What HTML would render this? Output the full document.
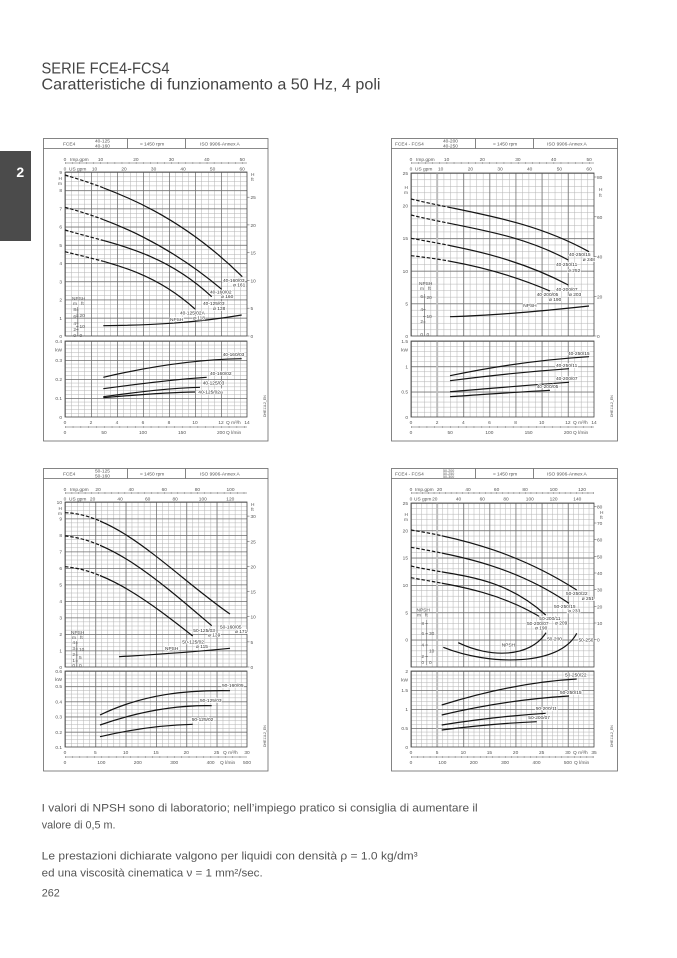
<!DOCTYPE html>
<html><head><meta charset="utf-8">
<style>
html,body{margin:0;padding:0;background:#fff;}
svg{display:block;}
.t{font-family:"Liberation Sans",sans-serif;font-size:4.8px;fill:#555;}
.m{text-anchor:middle;}
.e{text-anchor:end;}
.lb{font-family:"Liberation Sans",sans-serif;font-size:4.8px;fill:#333;stroke:#fff;stroke-width:1.5;paint-order:stroke;}
.mi{fill:#b3b3b3;}
.ma{fill:#6e6e6e;}
.c{fill:none;stroke:#141414;stroke-width:1.2;}
.d{stroke-dasharray:3.5 1.8;}
.fr{fill:none;stroke:#666;stroke-width:0.8;}
.bd{fill:none;stroke:#444;stroke-width:0.8;}
.tk{fill:none;stroke:#555;stroke-width:0.5;}
.body{font-family:"Liberation Sans",sans-serif;font-size:10.8px;fill:#555;}
</style></head><body>
<svg width="677" height="958" viewBox="0 0 677 958" xmlns="http://www.w3.org/2000/svg">
<defs>
<pattern id="tlum" patternUnits="userSpaceOnUse" x="65" y="172" width="6.5" height="4.5556"><rect class="mi" width="0.5" height="4.5556"/><rect class="mi" width="6.5" height="0.5"/></pattern>
<pattern id="tluM" patternUnits="userSpaceOnUse" x="65" y="172" width="26" height="18.2222"><rect class="ma" width="0.75" height="18.2222"/><rect class="ma" width="26" height="0.75"/></pattern>
<pattern id="tllm" patternUnits="userSpaceOnUse" x="65" y="341" width="6.5" height="3.8"><rect class="mi" width="0.5" height="3.8"/><rect class="mi" width="6.5" height="0.5"/></pattern>
<pattern id="tllM" patternUnits="userSpaceOnUse" x="65" y="341" width="26" height="19"><rect class="ma" width="0.75" height="19"/><rect class="ma" width="26" height="0.75"/></pattern>

<pattern id="trum" patternUnits="userSpaceOnUse" x="411" y="173" width="6.5357" height="6.52"><rect class="mi" width="0.5" height="6.52"/><rect class="mi" width="6.5357" height="0.5"/></pattern>
<pattern id="truM" patternUnits="userSpaceOnUse" x="411" y="173" width="26.1429" height="32.6"><rect class="ma" width="0.75" height="32.6"/><rect class="ma" width="26.1429" height="0.75"/></pattern>
<pattern id="trlm" patternUnits="userSpaceOnUse" x="411" y="341" width="6.5357" height="5.0667"><rect class="mi" width="0.5" height="5.0667"/><rect class="mi" width="6.5357" height="0.5"/></pattern>
<pattern id="trlM" patternUnits="userSpaceOnUse" x="411" y="341" width="26.1429" height="25.3333"><rect class="ma" width="0.75" height="25.3333"/><rect class="ma" width="26.1429" height="0.75"/></pattern>

<pattern id="blum" patternUnits="userSpaceOnUse" x="65" y="502" width="6.0667" height="4.125"><rect class="mi" width="0.5" height="4.125"/><rect class="mi" width="6.0667" height="0.5"/></pattern>
<pattern id="bluM" patternUnits="userSpaceOnUse" x="65" y="502" width="30.3333" height="16.5"><rect class="ma" width="0.75" height="16.5"/><rect class="ma" width="30.3333" height="0.75"/></pattern>
<pattern id="bllm" patternUnits="userSpaceOnUse" x="65" y="671" width="6.0667" height="3.8"><rect class="mi" width="0.5" height="3.8"/><rect class="mi" width="6.0667" height="0.5"/></pattern>
<pattern id="bllM" patternUnits="userSpaceOnUse" x="65" y="671" width="30.3333" height="15.2"><rect class="ma" width="0.75" height="15.2"/><rect class="ma" width="30.3333" height="0.75"/></pattern>

<pattern id="brum" patternUnits="userSpaceOnUse" x="411" y="503" width="5.2286" height="5.4667"><rect class="mi" width="0.5" height="5.4667"/><rect class="mi" width="5.2286" height="0.5"/></pattern>
<pattern id="bruM" patternUnits="userSpaceOnUse" x="411" y="503" width="26.1429" height="27.3333"><rect class="ma" width="0.75" height="27.3333"/><rect class="ma" width="26.1429" height="0.75"/></pattern>
<pattern id="brlm" patternUnits="userSpaceOnUse" x="411" y="671" width="5.2286" height="3.8"><rect class="mi" width="0.5" height="3.8"/><rect class="mi" width="5.2286" height="0.5"/></pattern>
<pattern id="brlM" patternUnits="userSpaceOnUse" x="411" y="671" width="26.1429" height="19"><rect class="ma" width="0.75" height="19"/><rect class="ma" width="26.1429" height="0.75"/></pattern>

<clipPath id="tlL"><rect x="60" y="165" width="43.3" height="180"/></clipPath>
<clipPath id="tlR"><rect x="103.3" y="165" width="160" height="180"/></clipPath>
<clipPath id="trL"><rect x="405" y="165" width="45" height="180"/></clipPath>
<clipPath id="trR"><rect x="450" y="165" width="160" height="180"/></clipPath>
<clipPath id="blL"><rect x="60" y="495" width="40" height="180"/></clipPath>
<clipPath id="blR"><rect x="100" y="495" width="160" height="180"/></clipPath>
<clipPath id="brL"><rect x="405" y="495" width="36.7" height="180"/></clipPath>
<clipPath id="brR"><rect x="441.7" y="495" width="160" height="180"/></clipPath>

<g id="tlc">
<path d="M65 175C124.1 192.55 183.2 218.35 242.3 276.7"/>
<path d="M65 207.3C117.2 221.4 169.5 245.5 221.7 289.3"/>
<path d="M65 230C113.9 244.3 162.8 251.1 211.7 296.7"/>
<path d="M65 251.7C108.3 262.7 151.7 269.9 195 309"/>
</g>
<g id="trc">
<path d="M411 199C470.3 213.3 529.7 218.8 589 251.7"/>
<path d="M411 215C463.4 227.9 515.9 231.7 568.3 260"/>
<path d="M411 238.3C463.4 247.6 515.9 257.2 568.3 285"/>
<path d="M411 255.7C457.3 260.6 503.7 271.1 550 291"/>
</g>
<g id="blc">
<path d="M65 512.7C120 514.1 175 576.3 230 614"/>
<path d="M65 536C113.9 540.3 162.8 584.1 211.7 625.7"/>
<path d="M65 566.7C107.6 570.3 150.1 602.4 192.7 636"/>
</g>
<g id="brc">
<path d="M411 530C466.2 538.9 521.5 554.6 576.7 590"/>
<path d="M411 547.3C463.7 556.5 516.3 567.4 569 603.3"/>
<path d="M411 566C455.9 576.5 500.8 574.2 545.7 615"/>
<path d="M411 577.7C455.3 585.6 499.7 591.5 544 619.3"/>
</g>
</defs>

<!-- Title -->
<text x="41.5" y="73.5" font-family="Liberation Sans, sans-serif" font-size="16" fill="#444" textLength="128" lengthAdjust="spacingAndGlyphs">SERIE FCE4-FCS4</text>
<text x="41.5" y="89.5" font-family="Liberation Sans, sans-serif" font-size="16" fill="#444" textLength="339" lengthAdjust="spacingAndGlyphs">Caratteristiche di funzionamento a 50 Hz, 4 poli</text>

<!-- Side tab -->
<rect x="0" y="151" width="31" height="90" fill="#4b4b4b"/>
<text x="20.3" y="177" font-family="Liberation Sans, sans-serif" font-size="14" font-weight="bold" fill="#fff" text-anchor="middle">2</text>

<!-- ================= TOP LEFT ================= -->
<rect class="fr" x="43.5" y="138.5" width="224.5" height="302.5"/>
<path class="fr" d="M43.5 148.5H268M127.5 138.5V148.5M185.5 138.5V148.5"/>
<g class="t">
<text x="63" y="145.5">FCE4</text>
<text x="95" y="142.6">40-125</text>
<text x="95" y="147.3">40-160</text>
<text x="140" y="145.5">≈ 1450 rpm</text>
<text x="200" y="145.5">ISO 9906-Annex A</text>
</g>
<rect x="65" y="172" width="182" height="164" fill="url(#tlum)"/>
<rect x="65" y="172" width="182" height="164" fill="url(#tluM)"/>
<rect class="bd" x="65" y="172" width="182" height="164"/>
<rect x="65" y="341" width="182" height="76" fill="url(#tllm)"/>
<rect x="65" y="341" width="182" height="76" fill="url(#tllM)"/>
<rect class="bd" x="65" y="341" width="182" height="76"/>
<path class="tk" d="M65 163H247M65 427H247"/>
<path d="M65 163H247" stroke="#555" stroke-width="1.6" stroke-dasharray="0.5 6.59"/>
<path d="M65 427H247" stroke="#555" stroke-width="1.6" stroke-dasharray="0.5 7.3"/>
<path class="tk" d="M247 308.2h2.5M247 280.5h2.5M247 252.7h2.5M247 224.9h2.5M247 197.2h2.5M247 336h2.5"/>
<g class="t">
<text class="m" x="65" y="161">0</text><text x="70" y="161">Imp.gpm</text>
<text class="m" x="100.5" y="161">10</text><text class="m" x="135.9" y="161">20</text><text class="m" x="171.4" y="161">30</text><text class="m" x="206.8" y="161">40</text><text class="m" x="242.3" y="161">50</text>
<text class="m" x="65" y="170.5">0</text><text x="69" y="170.5">US gpm</text>
<text class="m" x="94.5" y="170.5">10</text><text class="m" x="124" y="170.5">20</text><text class="m" x="153.6" y="170.5">30</text><text class="m" x="183.1" y="170.5">40</text><text class="m" x="212.6" y="170.5">50</text><text class="m" x="242.2" y="170.5">60</text>
<text class="e" x="62" y="174">9</text><text class="e" x="62" y="192.2">8</text><text class="e" x="62" y="210.4">7</text><text class="e" x="62" y="228.7">6</text><text class="e" x="62" y="246.9">5</text><text class="e" x="62" y="265.1">4</text><text class="e" x="62" y="283.3">3</text><text class="e" x="62" y="301.6">2</text><text class="e" x="62" y="319.8">1</text><text class="e" x="62" y="338">0</text>
<text class="e" x="62" y="180">H</text><text class="e" x="62" y="185">m</text>
<text x="250.5" y="338">0</text><text x="250.5" y="310.2">5</text><text x="250.5" y="282.5">10</text><text x="250.5" y="254.7">15</text><text x="250.5" y="226.9">20</text><text x="250.5" y="199.2">25</text>
<text x="251" y="176">H</text><text x="251" y="181">ft</text>
<text class="e" x="62" y="343">0.4</text><text class="e" x="62" y="351.5">kW</text><text class="e" x="62" y="362">0.3</text><text class="e" x="62" y="381">0.2</text><text class="e" x="62" y="400">0.1</text><text class="e" x="62" y="419">0</text>
<text class="m" x="65" y="424">0</text><text class="m" x="91" y="424">2</text><text class="m" x="117" y="424">4</text><text class="m" x="143" y="424">6</text><text class="m" x="169" y="424">8</text><text class="m" x="195" y="424">10</text><text class="m" x="221" y="424">12</text><text x="226" y="424">Q m³/h</text><text class="m" x="247" y="424">14</text>
<text class="m" x="65" y="434">0</text><text class="m" x="104" y="434">50</text><text class="m" x="143" y="434">100</text><text class="m" x="182" y="434">150</text><text class="m" x="221" y="434">200</text><text x="226" y="434">Q l/min</text>
<text x="72" y="300">NPSH</text><text x="73" y="305">m</text><text x="81" y="305">ft</text>
<text class="e" x="76" y="311">8</text><text class="e" x="76" y="318">6</text><text class="e" x="76" y="325">4</text><text class="e" x="76" y="331">2</text><text class="e" x="76" y="337">0</text>
<text x="79.5" y="317">20</text><text x="79.5" y="328">10</text><text x="79.5" y="337">0</text>
<text transform="translate(266,417) rotate(-90)" font-size="3.5">DHE11L2_EN</text>
</g>
<path class="tk" d="M77.3 307V336M76 310h2.6M76 316.5h2.6M76 323h2.6M76 329.5h2.6M76 315h2.6M76 326.5h2.6"/>
<use href="#tlc" class="c d" clip-path="url(#tlL)"/>
<use href="#tlc" class="c" clip-path="url(#tlR)"/>
<path class="c" d="M103.3 325.7C149.4 325.2 195.5 323 241.7 315"/>
<path class="c" d="M103.3 377.3C149.4 366.5 195.5 359.5 241.7 358.7"/>
<path class="c" d="M103.3 388.7C137.8 384 172.2 379.5 206.7 377.3"/>
<path class="c" d="M103.3 396.7C135.5 392.5 167.8 388 200 387.3"/>
<path class="c" d="M103.3 397.7C133.9 395 164.4 392.5 195 392"/>
<g class="lb">
<text x="223" y="282">40-160/03</text><text x="233" y="286.5">ø 161</text>
<text x="210" y="293.5">40-160/02</text><text x="221" y="298">ø 160</text>
<text x="203" y="305">40-125/03</text><text x="213" y="310">ø 138</text>
<text x="180" y="314.5">40-125/02A</text><text x="193" y="319.5">ø 118</text>
<text x="170" y="321">NPSH</text>
<text x="222.7" y="356">40-160/03</text>
<text x="210" y="375">40-160/02</text>
<text x="202.7" y="384.5">40-125/03</text>
<text x="198.3" y="393.5">40-125/02A</text>
</g>

<!-- ================= TOP RIGHT ================= -->
<rect class="fr" x="391.5" y="138.5" width="226" height="302.5"/>
<path class="fr" d="M391.5 148.5H617.5M475.5 138.5V148.5M533.5 138.5V148.5"/>
<g class="t">
<text x="395" y="145.5">FCE4 - FCS4</text>
<text x="443" y="142.6">40-200</text>
<text x="443" y="147.3">40-250</text>
<text x="493" y="145.5">≈ 1450 rpm</text>
<text x="547" y="145.5">ISO 9906-Annex A</text>
</g>
<rect x="411" y="173" width="183" height="163" fill="url(#trum)"/>
<rect x="411" y="173" width="183" height="163" fill="url(#truM)"/>
<rect x="411" y="341" width="183" height="76" fill="url(#trlm)"/>
<rect x="411" y="341" width="183" height="76" fill="url(#trlM)"/>
<path d="M437.1 173V336M437.1 341V417" stroke="#bdbdbd" stroke-width="1.8"/>
<rect class="bd" x="411" y="173" width="183" height="163"/>
<rect class="bd" x="411" y="341" width="183" height="76"/>
<path class="tk" d="M411 163H594M411 427H594"/>
<path d="M411 163H594" stroke="#555" stroke-width="1.6" stroke-dasharray="0.5 6.63"/>
<path d="M411 427H594" stroke="#555" stroke-width="1.6" stroke-dasharray="0.5 7.34"/>
<path class="tk" d="M594 296.3h2.5M594 256.5h2.5M594 216.8h2.5M594 177h2.5M594 336h2.5"/>
<g class="t">
<text class="m" x="411" y="161">0</text><text x="416" y="161">Imp.gpm</text>
<text class="m" x="446.6" y="161">10</text><text class="m" x="482.3" y="161">20</text><text class="m" x="517.9" y="161">30</text><text class="m" x="553.6" y="161">40</text><text class="m" x="589.2" y="161">50</text>
<text class="m" x="411" y="170.5">0</text><text x="415" y="170.5">US gpm</text>
<text class="m" x="440.7" y="170.5">10</text><text class="m" x="470.4" y="170.5">20</text><text class="m" x="500.1" y="170.5">30</text><text class="m" x="529.7" y="170.5">40</text><text class="m" x="559.4" y="170.5">50</text><text class="m" x="589.1" y="170.5">60</text>
<text class="e" x="408" y="175">25</text><text class="e" x="408" y="207.6">20</text><text class="e" x="408" y="240.2">15</text><text class="e" x="408" y="272.8">10</text><text class="e" x="408" y="305.4">5</text><text class="e" x="408" y="338">0</text>
<text class="e" x="408" y="189">H</text><text class="e" x="408" y="194">m</text>
<text x="597" y="338">0</text><text x="597" y="298.3">20</text><text x="597" y="258.5">40</text><text x="597" y="218.8">60</text><text x="597" y="179">80</text>
<text x="599" y="191">H</text><text x="599" y="197">ft</text>
<text class="e" x="408" y="343">1.5</text><text class="e" x="408" y="351.5">kW</text><text class="e" x="408" y="368.3">1</text><text class="e" x="408" y="393.7">0.5</text><text class="e" x="408" y="419">0</text>
<text class="m" x="411" y="424">0</text><text class="m" x="437.1" y="424">2</text><text class="m" x="463.3" y="424">4</text><text class="m" x="489.4" y="424">6</text><text class="m" x="515.6" y="424">8</text><text class="m" x="541.7" y="424">10</text><text class="m" x="567.9" y="424">12</text><text x="573" y="424">Q m³/h</text><text class="m" x="594" y="424">14</text>
<text class="m" x="411" y="434">0</text><text class="m" x="450.2" y="434">50</text><text class="m" x="489.4" y="434">100</text><text class="m" x="528.6" y="434">150</text><text class="m" x="567.9" y="434">200</text><text x="573" y="434">Q l/min</text>
<text x="419" y="285">NPSH</text><text x="420" y="290">m</text><text x="428" y="290">ft</text>
<text class="e" x="423" y="298">6</text><text class="e" x="423" y="311">4</text><text class="e" x="423" y="323">2</text><text class="e" x="423" y="336">0</text>
<text x="426.5" y="299">20</text><text x="426.5" y="318">10</text><text x="426.5" y="336">0</text>
<text transform="translate(613,417) rotate(-90)" font-size="3.5">DHE11L2_EN</text>
</g>
<path class="tk" d="M424.5 294V336M423 297h2.6M423 309.5h2.6M423 322h2.6M423 316.5h2.6"/>
<use href="#trc" class="c d" clip-path="url(#trL)"/>
<use href="#trc" class="c" clip-path="url(#trR)"/>
<path class="c" d="M450 316.7C496 315.5 543 311 589 306"/>
<path class="c" d="M450 375.7C496.3 366 542.7 359.5 589 356.7"/>
<path class="c" d="M450 380.7C489.7 375.5 529.3 371.5 569 368.7"/>
<path class="c" d="M450 391.7C489.7 388.5 529.3 385 569 382.3"/>
<path class="c" d="M450 396.7C483.3 394.5 516.7 392 550 390.3"/>
<g class="lb">
<text x="569" y="256">40-250/15</text><text x="582.7" y="261">ø 248</text>
<text x="556" y="266">40-250/11</text><text x="568" y="272">ø 252</text>
<text x="556" y="291">40-200/07</text><text x="569" y="296">ø 203</text>
<text x="536.7" y="296">40-200/05</text><text x="549" y="301">ø 190</text>
<text x="523.3" y="307">NPSH</text>
<text x="568" y="355">40-250/15</text>
<text x="556" y="367">40-250/11</text>
<text x="556" y="380">40-200/07</text>
<text x="536.7" y="388">40-200/05</text>
</g>

<!-- ================= BOTTOM LEFT ================= -->
<rect class="fr" x="43.5" y="468.5" width="224.5" height="302.5"/>
<path class="fr" d="M43.5 478.5H268M127.5 468.5V478.5M185.5 468.5V478.5"/>
<g class="t">
<text x="63" y="475.5">FCE4</text>
<text x="95" y="472.6">50-125</text>
<text x="95" y="477.3">50-160</text>
<text x="140" y="475.5">≈ 1450 rpm</text>
<text x="200" y="475.5">ISO 9906-Annex A</text>
</g>
<rect x="65" y="502" width="182" height="165" fill="url(#blum)"/>
<rect x="65" y="502" width="182" height="165" fill="url(#bluM)"/>
<rect class="bd" x="65" y="502" width="182" height="165"/>
<rect x="65" y="671" width="182" height="76" fill="url(#bllm)"/>
<rect x="65" y="671" width="182" height="76" fill="url(#bllM)"/>
<rect class="bd" x="65" y="671" width="182" height="76"/>
<path class="tk" d="M65 493H247M65 757H247"/>
<path d="M65 493H247" stroke="#555" stroke-width="1.6" stroke-dasharray="0.5 6.12"/>
<path d="M65 757H247" stroke="#555" stroke-width="1.6" stroke-dasharray="0.5 6.78"/>
<path class="tk" d="M247 641.9h2.5M247 616.7h2.5M247 591.6h2.5M247 566.4h2.5M247 541.3h2.5M247 516.1h2.5M247 667h2.5"/>
<g class="t">
<text class="m" x="65" y="491">0</text><text x="70" y="491">Imp.gpm</text>
<text class="m" x="98.1" y="491">20</text><text class="m" x="131.2" y="491">40</text><text class="m" x="164.3" y="491">60</text><text class="m" x="197.4" y="491">80</text><text class="m" x="230.5" y="491">100</text>
<text class="m" x="65" y="500.5">0</text><text x="69" y="500.5">US gpm</text>
<text class="m" x="92.6" y="500.5">20</text><text class="m" x="120.1" y="500.5">40</text><text class="m" x="147.7" y="500.5">60</text><text class="m" x="175.2" y="500.5">80</text><text class="m" x="202.8" y="500.5">100</text><text class="m" x="230.3" y="500.5">120</text>
<text class="e" x="62" y="504">10</text><text class="e" x="62" y="520.5">9</text><text class="e" x="62" y="537">8</text><text class="e" x="62" y="553.5">7</text><text class="e" x="62" y="570">6</text><text class="e" x="62" y="586.5">5</text><text class="e" x="62" y="603">4</text><text class="e" x="62" y="619.5">3</text><text class="e" x="62" y="636">2</text><text class="e" x="62" y="652.5">1</text><text class="e" x="62" y="669">0</text>
<text class="e" x="62" y="510">H</text><text class="e" x="62" y="515">m</text>
<text x="250.5" y="669">0</text><text x="250.5" y="643.9">5</text><text x="250.5" y="618.7">10</text><text x="250.5" y="593.6">15</text><text x="250.5" y="568.4">20</text><text x="250.5" y="543.3">25</text><text x="250.5" y="518.1">30</text>
<text x="251" y="506">H</text><text x="251" y="511">ft</text>
<text class="e" x="62" y="673">0.6</text><text class="e" x="62" y="681">kW</text><text class="e" x="62" y="688.2">0.5</text><text class="e" x="62" y="703.4">0.4</text><text class="e" x="62" y="718.6">0.3</text><text class="e" x="62" y="733.8">0.2</text><text class="e" x="62" y="749">0.1</text>
<text class="m" x="65" y="754">0</text><text class="m" x="95.3" y="754">5</text><text class="m" x="125.7" y="754">10</text><text class="m" x="156" y="754">15</text><text class="m" x="186.3" y="754">20</text><text class="m" x="216.7" y="754">25</text><text x="223" y="754">Q m³/h</text><text class="m" x="247" y="754">30</text>
<text class="m" x="65" y="764">0</text><text class="m" x="101.4" y="764">100</text><text class="m" x="137.8" y="764">200</text><text class="m" x="174.2" y="764">300</text><text class="m" x="210.6" y="764">400</text><text x="220" y="764">Q l/min</text><text class="m" x="247" y="764">500</text>
<text x="71" y="634">NPSH</text><text x="72" y="639">m</text><text x="80" y="639">ft</text>
<text class="e" x="75" y="644">4</text><text class="e" x="75" y="650">3</text><text class="e" x="75" y="656">2</text><text class="e" x="75" y="662">1</text><text class="e" x="75" y="667">0</text>
<text x="79" y="651">10</text><text x="79" y="659">5</text><text x="79" y="667">0</text>
<text transform="translate(266,747) rotate(-90)" font-size="3.5">DHE11L2_EN</text>
</g>
<path class="tk" d="M76.7 641V667M75.5 643h2.5M75.5 649h2.5M75.5 655h2.5M75.5 661h2.5"/>
<use href="#blc" class="c d" clip-path="url(#blL)"/>
<use href="#blc" class="c" clip-path="url(#blR)"/>
<path class="c" d="M119 656.7C156 654.5 193 652 230 648.3"/>
<path class="c" d="M100 715C143.3 694 186.7 690 230 690.7"/>
<path class="c" d="M100 725C137.2 712 174.4 705 211.7 705.7"/>
<path class="c" d="M100 736.7C130.9 729.5 161.8 725 192.7 724.3"/>
<g class="lb">
<text x="220" y="628.5">50-160/05</text><text x="235" y="633">ø 171</text>
<text x="193.3" y="632">50-125/03</text><text x="208" y="636.5">ø 139</text>
<text x="182.3" y="643.5">50-125/02</text><text x="196" y="648">ø 115</text>
<text x="165" y="650">NPSH</text>
<text x="222" y="687">50-160/05</text>
<text x="200" y="702">50-125/03</text>
<text x="191.7" y="721">50-125/02</text>
</g>

<!-- ================= BOTTOM RIGHT ================= -->
<rect class="fr" x="391.5" y="468.5" width="226" height="302.5"/>
<path class="fr" d="M391.5 478.5H617.5M475.5 468.5V478.5M533.5 468.5V478.5"/>
<g class="t">
<text x="395" y="475.5">FCE4 - FCS4</text>
<text x="443" y="472" font-size="3.6">50-200</text>
<text x="443" y="475" font-size="3.6">50-250</text>
<text x="443" y="478" font-size="3.6">50-300</text>
<text x="493" y="475.5">≈ 1450 rpm</text>
<text x="547" y="475.5">ISO 9906-Annex A</text>
</g>
<rect x="411" y="503" width="183" height="164" fill="url(#brum)"/>
<rect x="411" y="503" width="183" height="164" fill="url(#bruM)"/>
<rect x="411" y="671" width="183" height="76" fill="url(#brlm)"/>
<rect x="411" y="671" width="183" height="76" fill="url(#brlM)"/>
<path d="M437.1 503V667M437.1 671V747" stroke="#bdbdbd" stroke-width="1.8"/>
<rect class="bd" x="411" y="503" width="183" height="164"/>
<rect class="bd" x="411" y="671" width="183" height="76"/>
<path class="tk" d="M411 493H594M411 757H594"/>
<path d="M411 493H594" stroke="#555" stroke-width="1.6" stroke-dasharray="0.5 5.2"/>
<path d="M411 757H594" stroke="#555" stroke-width="1.6" stroke-dasharray="0.5 5.77"/>
<path class="tk" d="M594 623h2.5M594 606.4h2.5M594 589.7h2.5M594 573h2.5M594 556.4h2.5M594 539.7h2.5M594 523h2.5M594 506.4h2.5M594 639.7h2.5"/>
<g class="t">
<text class="m" x="411" y="491">0</text><text x="415" y="491">Imp.gpm</text>
<text class="m" x="439.5" y="491">20</text><text class="m" x="468" y="491">40</text><text class="m" x="496.6" y="491">60</text><text class="m" x="525.1" y="491">80</text><text class="m" x="553.6" y="491">100</text><text class="m" x="582.1" y="491">120</text>
<text class="m" x="411" y="500.5">0</text><text x="414" y="500.5">US gpm</text>
<text class="m" x="434.8" y="500.5">20</text><text class="m" x="458.5" y="500.5">40</text><text class="m" x="482.3" y="500.5">60</text><text class="m" x="506" y="500.5">80</text><text class="m" x="529.8" y="500.5">100</text><text class="m" x="553.6" y="500.5">120</text><text class="m" x="577.3" y="500.5">140</text>
<text class="e" x="408" y="505">25</text><text class="e" x="408" y="532.3">20</text><text class="e" x="408" y="559.7">15</text><text class="e" x="408" y="587">10</text><text class="e" x="408" y="614.3">5</text><text class="e" x="408" y="641.7">0</text>
<text class="e" x="408" y="516">H</text><text class="e" x="408" y="521">m</text>
<text x="597" y="641.7">0</text><text x="597" y="625">10</text><text x="597" y="608.4">20</text><text x="597" y="591.7">30</text><text x="597" y="575">40</text><text x="597" y="558.4">50</text><text x="597" y="541.7">60</text><text x="597" y="525">70</text><text x="597" y="508.4">80</text>
<text x="600" y="514">H</text><text x="600" y="519">ft</text>
<text class="e" x="408" y="673">2</text><text class="e" x="408" y="681.5">kW</text><text class="e" x="408" y="692">1.5</text><text class="e" x="408" y="711">1</text><text class="e" x="408" y="730">0.5</text><text class="e" x="408" y="749">0</text>
<text class="m" x="411" y="754">0</text><text class="m" x="437.1" y="754">5</text><text class="m" x="463.3" y="754">10</text><text class="m" x="489.4" y="754">15</text><text class="m" x="515.6" y="754">20</text><text class="m" x="541.7" y="754">25</text><text class="m" x="567.9" y="754">30</text><text x="573" y="754">Q m³/h</text><text class="m" x="594" y="754">35</text>
<text class="m" x="411" y="764">0</text><text class="m" x="442.4" y="764">100</text><text class="m" x="473.7" y="764">200</text><text class="m" x="505.1" y="764">300</text><text class="m" x="536.5" y="764">400</text><text class="m" x="567.9" y="764">500</text><text x="574" y="764">Q l/min</text>
<text x="416.5" y="611.5">NPSH</text><text x="417" y="616.5">m</text><text x="425" y="616.5">ft</text>
<text class="e" x="424" y="625">8</text><text class="e" x="424" y="635">6</text><text class="e" x="424" y="646.5">4</text><text class="e" x="424" y="658">2</text><text class="e" x="424" y="664">0</text>
<text x="429" y="635">30</text><text x="429" y="652.5">10</text><text x="429" y="664">0</text>
<text transform="translate(613,747) rotate(-90)" font-size="3.5">DHE11L2_EN</text>
</g>
<path class="tk" d="M426.7 620V665M425.4 623.5h2.6M425.4 633.5h2.6M425.4 645h2.6M425.4 656.5h2.6"/>
<use href="#brc" class="c d" clip-path="url(#brL)"/>
<use href="#brc" class="c" clip-path="url(#brR)"/>
<path class="c" d="M458.3 642.7C490 658 530 658 546 632.7"/>
<path class="c" d="M443.3 647.3C490 666 560 666 576.7 633.3"/>
<path class="c" d="M441.7 705C486.7 691 531.7 681.5 576.7 679"/>
<path class="c" d="M441.7 715C484.1 705 526.6 698.5 569 696"/>
<path class="c" d="M441.7 725C476.4 719.5 511 715.5 545.7 713.3"/>
<path class="c" d="M441.7 730C473.4 726 505 723 536.7 721.7"/>
<g class="lb">
<text x="566" y="595">50-250/22</text><text x="581.7" y="600">ø 251</text>
<text x="554" y="608">50-250/15</text><text x="568" y="612.5">ø 233</text>
<text x="539.3" y="620">50-200/11</text><text x="555" y="624.5">ø 209</text>
<text x="527" y="625">50-200/07</text><text x="535" y="629.5">ø 190</text>
<text x="547" y="640.5">50-200</text>
<text x="578.5" y="641.5">50-250</text>
<text x="501.7" y="646.5">NPSH</text>
<text x="565" y="676.5">50-250/22</text>
<text x="560" y="694">50-250/15</text>
<text x="535.7" y="710">50-200/11</text>
<text x="528.3" y="719">50-200/07</text>
</g>

<!-- Notes -->
<text class="body" x="41.7" y="811.5" textLength="436" lengthAdjust="spacingAndGlyphs">I valori di NPSH sono di laboratorio; nell’impiego pratico si consiglia di aumentare il</text>
<text class="body" x="41.7" y="828.5">valore di 0,5 m.</text>
<text class="body" x="41.7" y="859.5" textLength="376" lengthAdjust="spacingAndGlyphs">Le prestazioni dichiarate valgono per liquidi con densità ρ = 1.0 kg/dm³</text>
<text class="body" x="41.7" y="876.5" textLength="221" lengthAdjust="spacingAndGlyphs">ed una viscosità cinematica ν = 1 mm²/sec.</text>
<text class="body" x="41.7" y="896.5">262</text>
</svg>
</body></html>
